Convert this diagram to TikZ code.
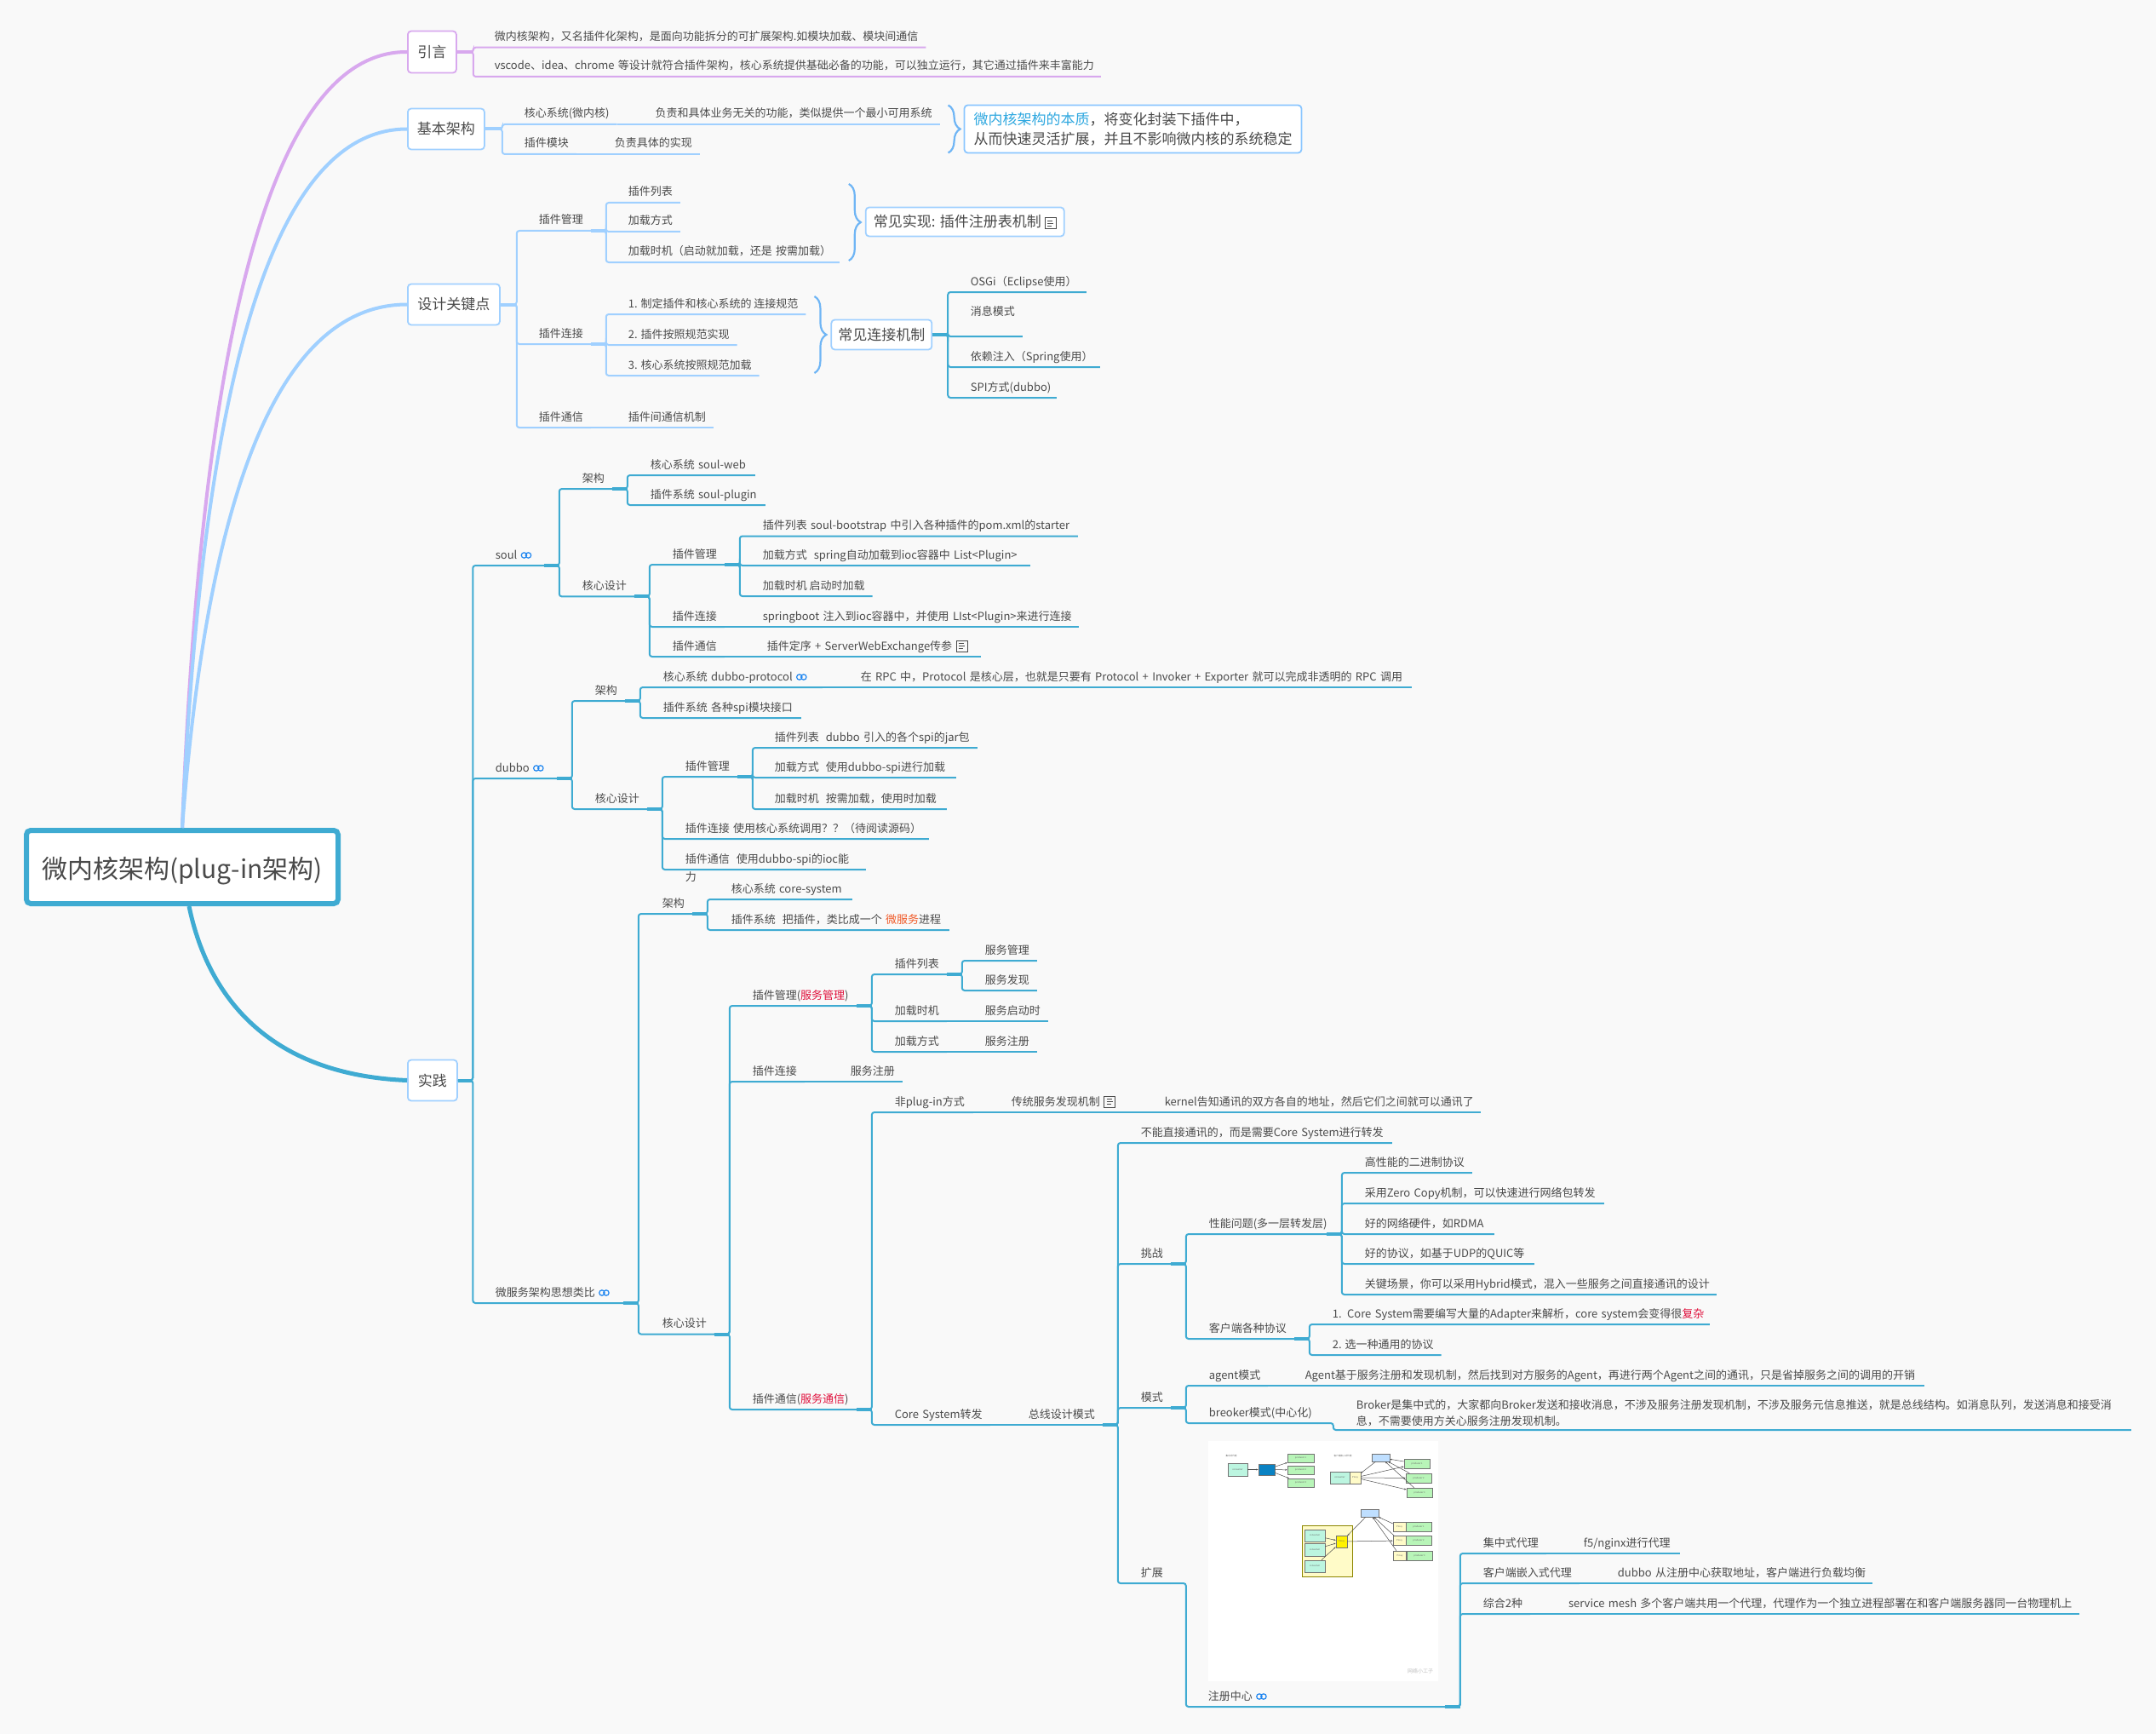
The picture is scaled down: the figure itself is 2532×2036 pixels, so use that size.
\documentclass[tikz,border=0pt]{standalone}
\usepackage{fontspec}
\setmainfont{Noto Sans CJK SC}
\usetikzlibrary{positioning, arrows.meta, decorations.pathreplacing}
\definecolor{paper}{HTML}{F9F9F9}
\definecolor{ink}{HTML}{4A4A4A}
\definecolor{pinkc}{HTML}{D8A8EE}
\definecolor{skyc}{HTML}{A0D0FF}
\definecolor{cyanc}{HTML}{3FABD2}
\definecolor{bracec}{HTML}{6FB5F5}
\definecolor{framec}{HTML}{8AC6FF}
\definecolor{linkc}{HTML}{1F86F0}
\definecolor{headc}{HTML}{2FA8E0}
\definecolor{redc}{HTML}{E0103C}
\definecolor{orangec}{HTML}{F05A28}
\definecolor{mintc}{HTML}{BCF5E0}
\definecolor{leafc}{HTML}{B8F5B8}
\definecolor{palec}{HTML}{FFFBC8}
\definecolor{regc}{HTML}{BFDFFF}
\definecolor{lbc}{HTML}{0A82C3}
\tikzset{wide/.style={text width=#1}}
\tikzstyle{item} = [inner xsep=9pt, inner ysep=0pt, outer sep=0pt, text height=12pt, text depth=8pt, text=ink, font=\fontsize{13}{16}\selectfont]
\tikzstyle{bulk} = [inner xsep=9pt, inner ysep=4pt, outer sep=0pt, text width=901pt, align=left, text=ink, font=\fontsize{13}{19}\selectfont]
\tikzstyle{topic} = [rectangle, rounded corners=4pt, draw=skyc, line width=1.8pt, fill=white, anchor=west, text=ink, font=\fontsize{17}{23}\selectfont]
\tikzstyle{rootbox} = [rectangle, rounded corners=5pt, draw=cyanc, line width=6pt, fill=white, text=ink, text height=33pt, text depth=6pt, font=\fontsize{30}{36}\selectfont]
\tikzstyle{curve} = [line width=4pt]
\tikzstyle{curly} = [decorate, decoration={brace, amplitude=14pt}, line width=2.2pt, bracec]
\tikzstyle{pinkarm} = [line width=2pt, rounded corners=3pt, pinkc]
\tikzstyle{skyarm} = [line width=2pt, rounded corners=3pt, skyc]
\tikzstyle{cyanarm} = [line width=2pt, rounded corners=3pt, cyanc]
\tikzstyle{pinkstub} = [line width=4pt, pinkc]
\tikzstyle{skystub} = [line width=4pt, skyc]
\tikzstyle{cyanstub} = [line width=4pt, cyanc]
\tikzstyle{tiny} = [rectangle, inner sep=0pt, line width=0.6pt, draw=black!55, text=black!60, font=\fontsize{2.6}{3}\selectfont]
\tikzstyle{tinyarrow} = [line width=0.5pt, black!70, -{Stealth[length=2.5pt]}]
\newcommand{\zc}{^^^^ff0c}
\newcommand{\zl}{^^^^ff08}
\newcommand{\zr}{^^^^ff09}
\newcommand{\zq}{^^^^ff1f}
\newcommand{\linkmark}{\tikz[baseline={(0pt,-4pt)}]{\draw[linkc, line width=1.2pt, sharp corners] (3.5pt,0pt) circle (3.2pt) (8.5pt,0pt) circle (3.2pt);}}
\newcommand{\notemark}{\tikz[baseline={(0pt,-11pt)}]{\draw[ink, line width=0.9pt, sharp corners] (0pt,0pt) rectangle (13pt,-13pt) (3pt,-3.5pt) -- (9pt,-3.5pt) (3pt,-6.5pt) -- (10pt,-6.5pt) (3pt,-9.5pt) -- (8pt,-9.5pt);}}
\begin{document}
\begin{tikzpicture}[x=1pt, y=-1pt]

	\useasboundingbox (0,0) rectangle (2532,2036);
	\fill[paper] (0,0) rectangle (2532,2036);

	% Root and main topics
	\node (root) [rootbox, minimum width=366pt, minimum height=86pt] at (214,1018) {微内核架构(plug-in架构)};
	\node (intro) [topic, draw=pinkc, minimum width=57pt, minimum height=49pt] at (478,61) {引言};
	\node (basic) [topic, minimum width=90pt, minimum height=48pt] at (478,151.5) {基本架构};
	\node (design) [topic, minimum width=108pt, minimum height=48pt] at (478,357.5) {设计关键点};
	\node (practice) [topic, minimum width=58pt, minimum height=48pt] at (478,1268.5) {实践};

	% Curves from the root
	\draw[curve, pinkc] (root.north) .. controls (238,363) and (326,60) .. (intro.west);
	\draw[curve, skyc] (root.north) .. controls (239,424) and (326,151.5) .. (basic.west);
	\draw[curve, skyc] (root.north) .. controls (245,562) and (333,357.5) .. (design.west);
	\draw[curve, cyanc, line width=5pt] ([xshift=8pt]root.south) .. controls (245,1175) and (320,1262) .. (practice.west);

	% Intro
	\node (intro_a) [item, above right=5.3pt and 35pt of intro.east] {微内核架构\zc 又名插件化架构\zc 是面向功能拆分的可扩展架构.如模块加载、模块间通信};
	\node (intro_b) [item, wide=703pt, below=34.3pt of intro_a.south west, anchor=south west] {vscode、idea、chrome 等设计就符合插件架构\zc 核心系统提供基础必备的功能\zc 可以独立运行\zc 其它通过插件来丰富能力};

	% Basic structure
	\node (kernel) [item, above right=5.5pt and 37pt of basic.east] {核心系统(微内核)};
	\node (kernel_d) [item, right=36pt of kernel.south east, anchor=south west] {负责和具体业务无关的功能\zc 类似提供一个最小可用系统};
	\node (plugin) [item, below=35pt of kernel.south west, anchor=south west] {插件模块};
	\node (plugin_d) [item, right=36pt of plugin.south east, anchor=south west] {负责具体的实现};
	\node (essence) [topic, draw=framec, align=left, minimum width=396pt, minimum height=56pt, inner xsep=7pt, right=28pt of kernel_d.south east, anchor=west, yshift=-5.5pt] {{\color{headc}微内核架构的本质}\zc 将变化封装下插件中\zc \\从而快速灵活扩展\zc 并且不影响微内核的系统稳定};
	\coordinate (essence_top) at ([xshift=-18pt, yshift=28pt]essence.west);
	\coordinate (essence_end) at ([xshift=-18pt, yshift=-28pt]essence.west);

	% Design points
	\node (mgr) [item, above right=86.5pt and 36pt of design.east] {插件管理};
	\node (mgr_a) [item, above right=33pt and 35pt of mgr.south east] {插件列表};
	\node (mgr_b) [item, below=34pt of mgr_a.south west, anchor=south west] {加载方式};
	\node (mgr_c) [item, wide=239pt, below=36pt of mgr_b.south west, anchor=south west] {加载时机\zl 启动就加载\zc 还是 按需加载\zr };
	\node (common) [topic, minimum width=233pt, minimum height=34pt, right=30pt of mgr_c.south east, anchor=west, yshift=47.5pt] {常见实现: 插件注册表机制 \notemark};
	\coordinate (common_top) at ([xshift=-19pt, yshift=44.5pt]common.west);
	\coordinate (common_end) at ([xshift=-19pt, yshift=-45.5pt]common.west);
	\node (link) [item, below=133pt of mgr.south west, anchor=south west] {插件连接};
	\node (link_a) [item, above right=35pt and 35pt of link.south east] {1. 制定插件和核心系统的 连接规范};
	\node (link_b) [item, below=36pt of link_a.south west, anchor=south west] {2. 插件按照规范实现};
	\node (link_c) [item, below=36pt of link_b.south west, anchor=south west] {3. 核心系统按照规范加载};
	\node (joint) [topic, minimum width=118pt, minimum height=35pt, right=29pt of link_a.south east, anchor=west, yshift=-24pt] {常见连接机制};
	\coordinate (joint_top) at ([xshift=-19pt, yshift=45pt]joint.west);
	\coordinate (joint_end) at ([xshift=-19pt, yshift=-45pt]joint.west);
	\node (osgi) [item, wide=127pt, above right=50pt and 35.6pt of joint.east] {OSGi\zl Eclipse使用\zr };
	\node (msg) [item, text depth=25pt, below=52pt of osgi.south west, anchor=south west] {消息模式};
	\node (inject) [item, wide=143pt, below=36pt of msg.south west, anchor=south west] {依赖注入\zl Spring使用\zr };
	\node (spi) [item, wide=92pt, below=36pt of inject.south west, anchor=south west] {SPI方式(dubbo)};
	\node (comm) [item, below=98pt of link.south west, anchor=south west] {插件通信};
	\node (comm_d) [item, right=35pt of comm.south east, anchor=south west] {插件间通信机制};

	% Practice - soul
	\node (soul) [item, wide=48pt, above right=604.5pt and 35pt of practice.east] {soul \linkmark};
	\node (soul_arch) [item, above right=90pt and 36pt of soul.south east] {架构};
	\node (soul_arch_a) [item, wide=114pt, above right=16pt and 36pt of soul_arch.south east] {核心系统 soul-web};
	\node (soul_arch_b) [item, wide=126pt, below=35pt of soul_arch_a.south west, anchor=south west] {插件系统 soul-plugin};
	\node (soul_core) [item, below=126.4pt of soul_arch.south west, anchor=south west] {核心设计};
	\node (soul_mgr) [item, above right=37.4pt and 36pt of soul_core.south east] {插件管理};
	\node (soul_mgr_a) [item, wide=361pt, above right=33.5pt and 36pt of soul_mgr.south east] {插件列表 soul-bootstrap 中引入各种插件的pom.xml的starter};
	\node (soul_mgr_b) [item, wide=305pt, below=34.5pt of soul_mgr_a.south west, anchor=south west] {加载方式\hspace{8pt}spring自动加载到ioc容器中 List<Plugin>};
	\node (soul_mgr_c) [item, below=36pt of soul_mgr_b.south west, anchor=south west] {加载时机 启动时加载};
	\node (soul_link) [item, below=73pt of soul_mgr.south west, anchor=south west] {插件连接};
	\node (soul_link_d) [item, wide=362pt, right=36pt of soul_link.south east, anchor=south west] {\mbox{springboot 注入到ioc容器中\zc 并使用 LIst<Plugin>来进行连接}};
	\node (soul_comm) [item, below=35pt of soul_link.south west, anchor=south west] {插件通信};
	\node (soul_comm_d) [item, wide=242pt, right=41pt of soul_comm.south east, anchor=south west] {插件定序 + ServerWebExchange传参 \notemark};

	% Practice - dubbo
	\node (dubbo) [item, wide=63pt, above right=354.5pt and 35pt of practice.east] {dubbo \linkmark};
	\node (dubbo_arch) [item, above right=91pt and 36pt of dubbo.south east] {架构};
	\node (dubbo_arch_a) [item, wide=178pt, above right=16pt and 36pt of dubbo_arch.south east] {核心系统 dubbo-protocol \linkmark};
	\node (dubbo_arch_d) [item, wide=638pt, right=36pt of dubbo_arch_a.south east, anchor=south west] {在 RPC 中\zc Protocol 是核心层\zc 也就是只要有 Protocol + Invoker + Exporter 就可以完成非透明的 RPC 调用};
	\node (dubbo_arch_b) [item, wide=153pt, below=36pt of dubbo_arch_a.south west, anchor=south west] {插件系统 各种spi模块接口};
	\node (dubbo_core) [item, below=127pt of dubbo_arch.south west, anchor=south west] {核心设计};
	\node (dubbo_mgr) [item, above right=38pt and 36pt of dubbo_core.south east] {插件管理};
	\node (dubbo_mgr_a) [item, wide=229pt, above right=34pt and 35pt of dubbo_mgr.south east] {插件列表\hspace{8pt}dubbo 引入的各个spi的jar包};
	\node (dubbo_mgr_b) [item, wide=204pt, below=35pt of dubbo_mgr_a.south west, anchor=south west] {加载方式\hspace{8pt}使用dubbo-spi进行加载};
	\node (dubbo_mgr_c) [item, wide=193pt, below=37pt of dubbo_mgr_b.south west, anchor=south west] {加载时机\hspace{8pt}按需加载\zc 使用时加载};
	\node (dubbo_link) [item, wide=277pt, below=73pt of dubbo_mgr.south west, anchor=south west] {\mbox{插件连接 使用核心系统调用\zq \zq \zl 待阅读源码\zr }};
	\node (dubbo_comm) [item, wide=203pt, below=36pt of dubbo_link.south west, anchor=south west] {插件通信\hspace{8pt}使用dubbo-spi的ioc能};
	\node (dubbo_wrap) [item, below=21pt of dubbo_comm.south west, anchor=south west] {力};

	% Practice - microservice
	\node (micro) [item, wide=141pt, below right=261.5pt and 35pt of practice.east, anchor=south west] {微服务架构思想类比 \linkmark};
	\node (micro_arch) [item, above right=457pt and 37pt of micro.south east] {架构};
	\node (micro_arch_a) [item, wide=133pt, above right=17pt and 37pt of micro_arch.south east] {核心系统 core-system};
	\node (micro_arch_b) [item, wide=247pt, below=36pt of micro_arch_a.south west, anchor=south west] {插件系统\hspace{8pt}把插件\zc 类比成一个 {\color{orangec}微服务}进程};
	\node (micro_core) [item, below=493.5pt of micro_arch.south west, anchor=south west] {核心设计};
	\node (micro_mgr) [item, wide=113pt, above right=385.5pt and 36pt of micro_core.south east] {插件管理({\color{redc}服务管理})};
	\node (micro_list) [item, above right=37pt and 36pt of micro_mgr.south east] {插件列表};
	\node (micro_list_a) [item, above right=16pt and 36pt of micro_list.south east] {服务管理};
	\node (micro_list_b) [item, below=35pt of micro_list_a.south west, anchor=south west] {服务发现};
	\node (micro_time) [item, below=55pt of micro_list.south west, anchor=south west] {加载时机};
	\node (micro_time_d) [item, right=36pt of micro_time.south east, anchor=south west] {服务启动时};
	\node (micro_mode) [item, below=36pt of micro_time.south west, anchor=south west] {加载方式};
	\node (micro_mode_d) [item, right=36pt of micro_mode.south east, anchor=south west] {服务注册};
	\node (micro_link) [item, below=89pt of micro_mgr.south west, anchor=south west] {插件连接};
	\node (micro_link_d) [item, right=45pt of micro_link.south east, anchor=south west] {服务注册};
	\node (micro_comm) [item, wide=113pt, below=385pt of micro_link.south west, anchor=south west] {插件通信({\color{redc}服务通信})};
	\node (nonplug) [item, wide=83pt, above right=349pt and 36pt of micro_comm.south east] {非plug-in方式};
	\node (nonplug_a) [item, wide=126pt, right=36pt of nonplug.south east, anchor=south west] {传统服务发现机制 \notemark};
	\node (nonplug_b) [item, wide=362.5pt, right=36pt of nonplug_a.south east, anchor=south west] {kernel告知通讯的双方各自的地址\zc 然后它们之间就可以通讯了};
	\node (coresys) [item, wide=103pt, below=367pt of nonplug.south west, anchor=south west] {Core System转发};
	\node (bus) [item, right=36pt of coresys.south east, anchor=south west] {总线设计模式};

	\node (direct) [item, wide=286pt, above right=331pt and 36pt of bus.south east] {不能直接通讯的\zc 而是需要Core System进行转发};
	\node (challenge) [item, below=142pt of direct.south west, anchor=south west] {挑战};
	\node (perf) [item, wide=129pt, above right=35pt and 36pt of challenge.south east] {性能问题(多一层转发层)};
	\node (perf_a) [item, above right=72pt and 36pt of perf.south east] {高性能的二进制协议};
	\node (perf_b) [item, wide=272pt, below=36pt of perf_a.south west, anchor=south west] {采用Zero Copy机制\zc 可以快速进行网络包转发};
	\node (perf_c) [item, wide=143pt, below=36pt of perf_b.south west, anchor=south west] {好的网络硬件\zc 如RDMA};
	\node (perf_d) [item, wide=190pt, below=35pt of perf_c.south west, anchor=south west] {好的协议\zc 如基于UDP的QUIC等};
	\node (perf_e) [item, wide=404pt, below=36pt of perf_d.south west, anchor=south west] {关键场景\zc 你可以采用Hybrid模式\zc 混入一些服务之间直接通讯的设计};
	\node (proto) [item, below=123pt of perf.south west, anchor=south west] {客户端各种协议};
	\node (proto_a) [item, wide=434pt, above right=17pt and 36pt of proto.south east] {\mbox{1. Core System需要编写大量的Adapter来解析\zc core system会变得很{\color{redc}复杂}}};
	\node (proto_b) [item, below=36pt of proto_a.south west, anchor=south west] {2. 选一种通用的协议};

	\node (pattern) [item, below=169pt of challenge.south west, anchor=south west] {模式};
	\node (agent) [item, wide=60pt, above right=26pt and 36pt of pattern.south east] {agent模式};
	\node (agent_d) [item, wide=718pt, right=35pt of agent.south east, anchor=south west] {Agent基于服务注册和发现机制\zc 然后找到对方服务的Agent\zc 再进行两个Agent之间的通讯\zc 只是省掉服务之间的调用的开销};
	\node (breoker) [item, wide=119pt, below=44pt of agent.south west, anchor=south west] {breoker模式(中心化)};
	\node (breoker_d) [bulk, below right=8pt and 36pt of breoker.south east, anchor=south west] {Broker是集中式的\zc 大家都向Broker发送和接收消息\zc 不涉及服务注册发现机制\zc 不涉及服务元信息推送\zc 就是总线结构。如消息队列\zc 发送消息和接受消\\息\zc 不需要使用方关心服务注册发现机制。};

	\node (extend) [item, below=206pt of pattern.south west, anchor=south west] {扩展};
	\node (reg) [item, wide=269pt, below right=145pt and 35pt of extend.south east, anchor=south west] {注册中心 \linkmark};
	\node (reg_a) [item, above right=180pt and 36pt of reg.south east] {集中式代理};
	\node (reg_a_d) [item, wide=104pt, right=35pt of reg_a.south east, anchor=south west] {f5/nginx进行代理};
	\node (reg_b) [item, below=35pt of reg_a.south west, anchor=south west] {客户端嵌入式代理};
	\node (reg_b_d) [item, wide=290pt, right=36pt of reg_b.south east, anchor=south west] {dubbo 从注册中心获取地址\zc 客户端进行负载均衡};
	\node (reg_c) [item, below=36pt of reg_b.south west, anchor=south west] {综合2种};
	\node (reg_c_d) [item, wide=591pt, right=36pt of reg_c.south east, anchor=south west] {service mesh 多个客户端共用一个代理\zc 代理作为一个独立进程部署在和客户端服务器同一台物理机上};

	% Picture above the registry
	\fill[white] (1419,1692) rectangle (1689,1974);
	\node (cap_a) [font=\fontsize{2.6}{3}\selectfont, text=black!60, inner sep=0pt] at (1446,1709) {集中式代理};
	\node (shot_c) [tiny, fill=mintc, minimum width=23pt, minimum height=15pt] at (1453.5,1725.5) {consumer};
	\node (shot_lb) [tiny, fill=lbc, minimum width=19pt, minimum height=13pt] at (1487.5,1725.5) {};
	\node (shot_p1) [tiny, fill=leafc, minimum width=31pt, minimum height=10pt] at (1527.5,1712) {producer 1};
	\node (shot_p2) [tiny, fill=leafc, minimum width=31pt, minimum height=10pt] at (1527.5,1726) {producer 2};
	\node (shot_p3) [tiny, fill=leafc, minimum width=31pt, minimum height=10pt] at (1527.5,1741) {producer 3};
	\node (cap_b) [font=\fontsize{2.6}{3}\selectfont, text=black!60, inner sep=0pt] at (1577,1709) {客户端嵌入式代理};
	\node (shot_reg) [tiny, fill=regc, minimum width=21pt, minimum height=9pt] at (1621.5,1711.5) {};
	\node (shot_c2) [tiny, fill=mintc, minimum width=23pt, minimum height=14pt] at (1573.5,1735) {consumer};
	\node (shot_x2) [tiny, fill=palec, minimum width=13pt, minimum height=14pt] at (1591.5,1735) {Proxy};
	\node (shot_p4) [tiny, fill=leafc, minimum width=30pt, minimum height=11pt] at (1664,1718.5) {producer 1};
	\node (shot_p5) [tiny, fill=leafc, minimum width=30pt, minimum height=11pt] at (1666,1735.5) {producer 2};
	\node (shot_p6) [tiny, fill=leafc, minimum width=30pt, minimum height=11pt] at (1667,1752.5) {producer 3};
	\node (shot_host) [tiny, draw=olive, fill=palec, minimum width=59pt, minimum height=60pt] at (1558.5,1821) {};
	\node (shot_c3) [tiny, fill=mintc, minimum width=24pt, minimum height=14pt] at (1544,1803) {consumer};
	\node (shot_c4) [tiny, fill=mintc, minimum width=24pt, minimum height=15pt] at (1544,1819.5) {consumer};
	\node (shot_c5) [tiny, fill=mintc, minimum width=24pt, minimum height=14pt] at (1544,1839) {consumer};
	\node (shot_x3) [tiny, fill=yellow, minimum width=13pt, minimum height=14pt] at (1575.5,1810) {Proxy};
	\node (shot_reg2) [tiny, fill=regc, minimum width=21pt, minimum height=9pt] at (1608.5,1776.5) {};
	\node (shot_x4) [tiny, fill=palec, minimum width=15pt, minimum height=11pt] at (1643.5,1792.5) {Proxy};
	\node (shot_q1) [tiny, fill=leafc, minimum width=30pt, minimum height=11pt] at (1666,1792.5) {producer 1};
	\node (shot_x5) [tiny, fill=palec, minimum width=15pt, minimum height=11pt] at (1643.5,1809) {Proxy};
	\node (shot_q2) [tiny, fill=leafc, minimum width=30pt, minimum height=11pt] at (1666,1809) {producer 2};
	\node (shot_x6) [tiny, fill=palec, minimum width=15pt, minimum height=11pt] at (1644,1826.5) {Proxy};
	\node (shot_q3) [tiny, fill=leafc, minimum width=30pt, minimum height=11pt] at (1667,1826.5) {producer 3};
	\node (shot_mark) [text=black!25, inner sep=0pt, font=\fontsize{6}{7}\selectfont] at (1668,1962) {网络小工子};

	\draw[tinyarrow] (shot_c) -- (shot_lb);
	\draw[tinyarrow] (shot_lb) -- (shot_p1);
	\draw[tinyarrow] (shot_lb) -- (shot_p2);
	\draw[tinyarrow] (shot_lb) -- (shot_p3);
	\draw[tinyarrow] (shot_x2) -- (shot_p4);
	\draw[tinyarrow] (shot_x2) -- (shot_p5);
	\draw[tinyarrow] (shot_x2) -- (shot_p6);
	\draw[tinyarrow] (shot_reg) -- (shot_x2);
	\draw[tinyarrow] (shot_p4) -- (shot_reg);
	\draw[tinyarrow] (shot_p5) -- (shot_reg);
	\draw[tinyarrow] (shot_p6) -- (shot_reg);
	\draw[tinyarrow] (shot_c3) -- (shot_x3);
	\draw[tinyarrow] (shot_c4) -- (shot_x3);
	\draw[tinyarrow] (shot_c5) -- (shot_x3);
	\draw[tinyarrow] (shot_reg2) -- (shot_x3);
	\draw[tinyarrow] (shot_x3) -- (shot_x5);
	\draw[tinyarrow] (shot_x4) -- (shot_reg2);
	\draw[tinyarrow] (shot_x5) -- (shot_reg2);
	\draw[tinyarrow] (shot_x6) -- (shot_reg2);

	% Arrows - Intro
	\draw[pinkstub] (intro.east) -- ++(19,0);
	\draw[pinkarm] (intro.east) -- ++(19,0) |- (intro_a.south east);
	\draw[pinkarm] (intro.east) -- ++(19,0) |- (intro_b.south east);

	% Arrows - Basic
	\draw[skystub] (basic.east) -- ++(20,0);
	\draw[skyarm] (basic.east) -- ++(20,0) |- (kernel.south east);
	\draw[skyarm] (basic.east) -- ++(20,0) |- (plugin.south east);
	\draw[skyarm] (kernel.south east) -- (kernel_d.south east);
	\draw[skyarm] (plugin.south east) -- (plugin_d.south east);
	\draw[curly] (essence_top) -- (essence_end);

	% Arrows - Design
	\draw[skystub] (design.east) -- ++(19,0);
	\draw[skyarm] (design.east) -- ++(19,0) |- (mgr.south east);
	\draw[skyarm] (design.east) -- ++(19,0) |- (link.south east);
	\draw[skyarm] (design.east) -- ++(19,0) |- (comm.south east);
	\draw[skystub] (mgr.south east) -- ++(18,0);
	\draw[skyarm] (mgr.south east) -- ++(18,0) |- (mgr_a.south east);
	\draw[skyarm] (mgr.south east) -- ++(18,0) |- (mgr_b.south east);
	\draw[skyarm] (mgr.south east) -- ++(18,0) |- (mgr_c.south east);
	\draw[curly] (common_top) -- (common_end);
	\draw[skystub] (link.south east) -- ++(18,0);
	\draw[skyarm] (link.south east) -- ++(18,0) |- (link_a.south east);
	\draw[skyarm] (link.south east) -- ++(18,0) |- (link_b.south east);
	\draw[skyarm] (link.south east) -- ++(18,0) |- (link_c.south east);
	\draw[curly] (joint_top) -- (joint_end);
	\draw[cyanstub] (joint.east) -- ++(18,0);
	\draw[cyanarm] (joint.east) -- ++(18,0) |- (osgi.south east);
	\draw[cyanarm] (joint.east) -- ++(18,0) |- (msg.south east);
	\draw[cyanarm] (joint.east) -- ++(18,0) |- (inject.south east);
	\draw[cyanarm] (joint.east) -- ++(18,0) |- (spi.south east);
	\draw[skyarm] (comm.south east) -- (comm_d.south east);

	% Arrows - Practice
	\draw[cyanstub] (practice.east) -- ++(17.5,0);
	\draw[cyanarm] (practice.east) -- ++(17.5,0) |- (soul.south east);
	\draw[cyanarm] (practice.east) -- ++(17.5,0) |- (dubbo.south east);
	\draw[cyanarm] (practice.east) -- ++(17.5,0) |- (micro.south east);

	% Arrows - soul
	\draw[cyanstub] (soul.south east) -- ++(18,0);
	\draw[cyanarm] (soul.south east) -- ++(18,0) |- (soul_arch.south east);
	\draw[cyanarm] (soul.south east) -- ++(18,0) |- (soul_core.south east);
	\draw[cyanstub] (soul_arch.south east) -- ++(18,0);
	\draw[cyanarm] (soul_arch.south east) -- ++(18,0) |- (soul_arch_a.south east);
	\draw[cyanarm] (soul_arch.south east) -- ++(18,0) |- (soul_arch_b.south east);
	\draw[cyanstub] (soul_core.south east) -- ++(18,0);
	\draw[cyanarm] (soul_core.south east) -- ++(18,0) |- (soul_mgr.south east);
	\draw[cyanarm] (soul_core.south east) -- ++(18,0) |- (soul_link.south east);
	\draw[cyanarm] (soul_core.south east) -- ++(18,0) |- (soul_comm.south east);
	\draw[cyanstub] (soul_mgr.south east) -- ++(18,0);
	\draw[cyanarm] (soul_mgr.south east) -- ++(18,0) |- (soul_mgr_a.south east);
	\draw[cyanarm] (soul_mgr.south east) -- ++(18,0) |- (soul_mgr_b.south east);
	\draw[cyanarm] (soul_mgr.south east) -- ++(18,0) |- (soul_mgr_c.south east);
	\draw[cyanarm] (soul_link.south east) -- (soul_link_d.south east);
	\draw[cyanarm] (soul_comm.south east) -- (soul_comm_d.south east);

	% Arrows - dubbo
	\draw[cyanstub] (dubbo.south east) -- ++(18,0);
	\draw[cyanarm] (dubbo.south east) -- ++(18,0) |- (dubbo_arch.south east);
	\draw[cyanarm] (dubbo.south east) -- ++(18,0) |- (dubbo_core.south east);
	\draw[cyanstub] (dubbo_arch.south east) -- ++(18,0);
	\draw[cyanarm] (dubbo_arch.south east) -- ++(18,0) |- (dubbo_arch_a.south east);
	\draw[cyanarm] (dubbo_arch.south east) -- ++(18,0) |- (dubbo_arch_b.south east);
	\draw[cyanarm] (dubbo_arch_a.south east) -- (dubbo_arch_d.south east);
	\draw[cyanstub] (dubbo_core.south east) -- ++(18,0);
	\draw[cyanarm] (dubbo_core.south east) -- ++(18,0) |- (dubbo_mgr.south east);
	\draw[cyanarm] (dubbo_core.south east) -- ++(18,0) |- (dubbo_link.south east);
	\draw[cyanarm] (dubbo_core.south east) -- ++(18,0) |- (dubbo_comm.south east);
	\draw[cyanstub] (dubbo_mgr.south east) -- ++(18,0);
	\draw[cyanarm] (dubbo_mgr.south east) -- ++(18,0) |- (dubbo_mgr_a.south east);
	\draw[cyanarm] (dubbo_mgr.south east) -- ++(18,0) |- (dubbo_mgr_b.south east);
	\draw[cyanarm] (dubbo_mgr.south east) -- ++(18,0) |- (dubbo_mgr_c.south east);

	% Arrows - microservice
	\draw[cyanstub] (micro.south east) -- ++(18,0);
	\draw[cyanarm] (micro.south east) -- ++(18,0) |- (micro_arch.south east);
	\draw[cyanarm] (micro.south east) -- ++(18,0) |- (micro_core.south east);
	\draw[cyanstub] (micro_arch.south east) -- ++(18,0);
	\draw[cyanarm] (micro_arch.south east) -- ++(18,0) |- (micro_arch_a.south east);
	\draw[cyanarm] (micro_arch.south east) -- ++(18,0) |- (micro_arch_b.south east);
	\draw[cyanstub] (micro_core.south east) -- ++(18,0);
	\draw[cyanarm] (micro_core.south east) -- ++(18,0) |- (micro_mgr.south east);
	\draw[cyanarm] (micro_core.south east) -- ++(18,0) |- (micro_link.south east);
	\draw[cyanarm] (micro_core.south east) -- ++(18,0) |- (micro_comm.south east);
	\draw[cyanstub] (micro_mgr.south east) -- ++(18,0);
	\draw[cyanarm] (micro_mgr.south east) -- ++(18,0) |- (micro_list.south east);
	\draw[cyanarm] (micro_mgr.south east) -- ++(18,0) |- (micro_time.south east);
	\draw[cyanarm] (micro_mgr.south east) -- ++(18,0) |- (micro_mode.south east);
	\draw[cyanstub] (micro_list.south east) -- ++(18,0);
	\draw[cyanarm] (micro_list.south east) -- ++(18,0) |- (micro_list_a.south east);
	\draw[cyanarm] (micro_list.south east) -- ++(18,0) |- (micro_list_b.south east);
	\draw[cyanarm] (micro_time.south east) -- (micro_time_d.south east);
	\draw[cyanarm] (micro_mode.south east) -- (micro_mode_d.south east);
	\draw[cyanarm] (micro_link.south east) -- (micro_link_d.south east);
	\draw[cyanstub] (micro_comm.south east) -- ++(18,0);
	\draw[cyanarm] (micro_comm.south east) -- ++(18,0) |- (nonplug.south east);
	\draw[cyanarm] (micro_comm.south east) -- ++(18,0) |- (coresys.south east);
	\draw[cyanarm] (nonplug.south east) -- (nonplug_a.south east);
	\draw[cyanarm] (nonplug_a.south east) -- (nonplug_b.south east);
	\draw[cyanarm] (coresys.south east) -- (bus.south east);

	% Arrows - bus
	\draw[cyanstub] (bus.south east) -- ++(18,0);
	\draw[cyanarm] (bus.south east) -- ++(18,0) |- (direct.south east);
	\draw[cyanarm] (bus.south east) -- ++(18,0) |- (challenge.south east);
	\draw[cyanarm] (bus.south east) -- ++(18,0) |- (pattern.south east);
	\draw[cyanarm] (bus.south east) -- ++(18,0) |- (extend.south east);
	\draw[cyanstub] (challenge.south east) -- ++(18,0);
	\draw[cyanarm] (challenge.south east) -- ++(18,0) |- (perf.south east);
	\draw[cyanarm] (challenge.south east) -- ++(18,0) |- (proto.south east);
	\draw[cyanstub] (perf.south east) -- ++(18,0);
	\draw[cyanarm] (perf.south east) -- ++(18,0) |- (perf_a.south east);
	\draw[cyanarm] (perf.south east) -- ++(18,0) |- (perf_b.south east);
	\draw[cyanarm] (perf.south east) -- ++(18,0) |- (perf_c.south east);
	\draw[cyanarm] (perf.south east) -- ++(18,0) |- (perf_d.south east);
	\draw[cyanarm] (perf.south east) -- ++(18,0) |- (perf_e.south east);
	\draw[cyanstub] (proto.south east) -- ++(18,0);
	\draw[cyanarm] (proto.south east) -- ++(18,0) |- (proto_a.south east);
	\draw[cyanarm] (proto.south east) -- ++(18,0) |- (proto_b.south east);
	\draw[cyanstub] (pattern.south east) -- ++(18,0);
	\draw[cyanarm] (pattern.south east) -- ++(18,0) |- (agent.south east);
	\draw[cyanarm] (pattern.south east) -- ++(18,0) |- (breoker.south east);
	\draw[cyanarm] (agent.south east) -- (agent_d.south east);
	\draw[cyanarm] (breoker.south east) -- ++(18,0) |- (breoker_d.south east);
	\draw[cyanarm] (extend.south east) -- ++(18,0) |- (reg.south east);
	\draw[cyanstub] (reg.south east) -- ++(18,0);
	\draw[cyanarm] (reg.south east) -- ++(18,0) |- (reg_a.south east);
	\draw[cyanarm] (reg.south east) -- ++(18,0) |- (reg_b.south east);
	\draw[cyanarm] (reg.south east) -- ++(18,0) |- (reg_c.south east);
	\draw[cyanarm] (reg_a.south east) -- (reg_a_d.south east);
	\draw[cyanarm] (reg_b.south east) -- (reg_b_d.south east);
	\draw[cyanarm] (reg_c.south east) -- (reg_c_d.south east);

\end{tikzpicture}
\end{document}
